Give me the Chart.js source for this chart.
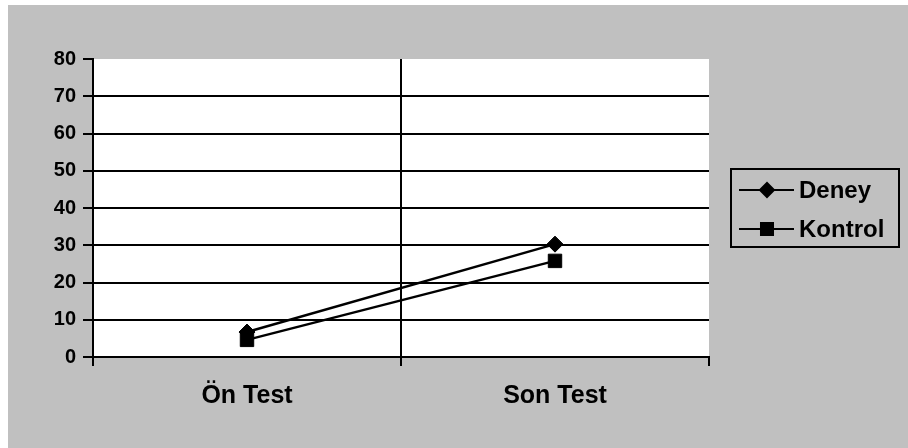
<!DOCTYPE html>
<html lang="tr">
<head>
    <meta charset="UTF-8">
    <title>Deney / Kontrol</title>
    <script src="https://cdn.jsdelivr.net/npm/chart.js"></script>
    <style>
        body { margin: 0; background: #fff; }
        .frame { position: absolute; left: 8px; top: 5px; width: 900px; height: 443px; background: #c0c0c0; }
    </style>
</head>
<body>
    <div class="frame"><canvas id="chart"></canvas></div>
<script>
    // values
    const categories = ['Ön Test', 'Son Test'];
    const deney = [6.7, 30.3];
    const kontrol = [4.6, 25.8];
    const yMin = 0, yMax = 80, yStep = 10;

    const fontFamily = "'Liberation Sans', Arial, sans-serif";

    // white plot background + boxed legend with line/marker samples
    const plotBg = {
        id: 'plotBg',
        beforeDraw(chart) {
            const a = chart.chartArea, ctx = chart.ctx;
            ctx.save();
            ctx.fillStyle = '#fff';
            ctx.fillRect(a.left, a.top, a.right - a.left, a.bottom - a.top);
            ctx.restore();
        }
    };

    const boxLegend = {
        id: 'boxLegend',
        afterDraw(chart) {
            const a = chart.chartArea, ctx = chart.ctx;
            const x = a.right + 22, y = 164, w = 168, h = 78;
            ctx.save();
            ctx.strokeStyle = '#000';
            ctx.lineWidth = 2;
            ctx.strokeRect(x, y, w, h);
            ctx.font = 'bold 24px ' + fontFamily;
            ctx.textBaseline = 'middle';
            ctx.fillStyle = '#000';
            const rows = [chart.data.datasets[0], chart.data.datasets[1]];
            rows.forEach((ds, i) => {
                const cy = y + 21 + i * 39;
                ctx.beginPath();
                ctx.moveTo(x + 8, cy);
                ctx.lineTo(x + 63, cy);
                ctx.lineWidth = 2;
                ctx.stroke();
                Chart.helpers.drawPoint(ctx, {
                    pointStyle: ds.pointStyle, radius: ds.pointRadius - 1, borderWidth: 1
                }, x + 36, cy);
                ctx.fill();
                ctx.fillText(ds.label, x + 68, cy + 1);
            });
            ctx.restore();
        }
    };

    new Chart(document.getElementById('chart'), {
        type: 'line',
        data: {
            labels: categories,
            datasets: [
                { label: 'Deney', data: deney, borderColor: '#000', backgroundColor: '#000', borderWidth: 2.5,
                  pointStyle: 'rectRot', pointRadius: 8, pointBorderWidth: 1, order: 1 },
                { label: 'Kontrol', data: kontrol, borderColor: '#000', backgroundColor: '#000', borderWidth: 2.5,
                  pointStyle: 'rect', pointRadius: 9.5, pointBorderWidth: 1, order: 0 }
            ]
        },
        options: {
            responsive: true,
            maintainAspectRatio: false,
            animation: false,
            layout: { padding: { top: 54, right: 199, left: 0, bottom: 0 } },
            plugins: { legend: { display: false }, tooltip: { enabled: false } },
            scales: {
                x: {
                    offset: true,
                    afterFit(s) { s.height = 91; },
                    border: { color: '#000', width: 2 },
                    grid: {
                        offset: true,
                        lineWidth: 2,
                        tickLength: 9,
                        tickColor: '#000',
                        color: c => c.index === 1 ? '#000' : 'rgba(0,0,0,0)'
                    },
                    ticks: { color: '#000', padding: 15, font: { family: fontFamily, size: 25, weight: 'bold' } }
                },
                y: {
                    min: yMin, max: yMax,
                    afterFit(s) { s.width = 85; },
                    border: { color: '#000', width: 2 },
                    grid: {
                        lineWidth: 2,
                        tickLength: 10,
                        tickColor: '#000',
                        color: c => c.tick && c.tick.value === yMax ? 'rgba(0,0,0,0)' : '#000'
                    },
                    ticks: { stepSize: yStep, color: '#000', padding: 7, font: { family: fontFamily, size: 20, weight: 'bold' } }
                }
            }
        },
        plugins: [plotBg, boxLegend]
    });
</script>
</body>
</html>
